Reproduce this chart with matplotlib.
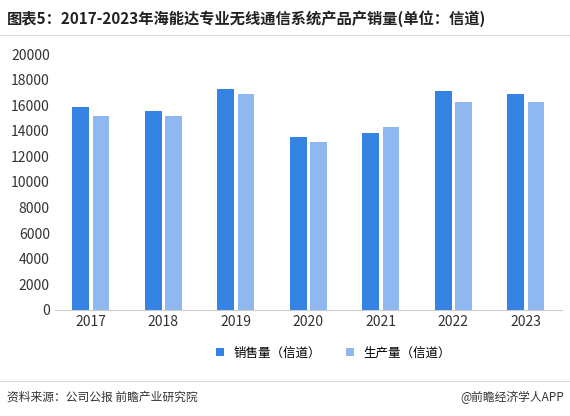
import matplotlib
matplotlib.use("Agg")
import matplotlib.pyplot as plt
import numpy as np

plt.rcParams['font.family'] = ['Noto Sans CJK SC', 'DejaVu Sans']

years = ["2017", "2018", "2019", "2020", "2021", "2022", "2023"]
sales = [15870, 15560, 17270, 13530, 13840, 17120, 16880]
production = [15170, 15170, 16880, 13140, 14310, 16260, 16260]

fig = plt.figure(figsize=(5.70, 4.16), dpi=100)
ax = fig.add_axes([0.096, 0.255, 0.89, 0.615])
x = np.arange(len(years))
w = 0.23
ax.bar(x - 0.14, sales, w, color='#3584e4', label='销售量（信道）')
ax.bar(x + 0.14, production, w, color='#8fb8f0', label='生产量（信道）')
ax.set_xlim(-0.5, 6.5)
ax.set_ylim(0, 20000)
ax.set_yticks(range(0, 20001, 2000))
ax.set_xticks(x)
ax.set_xticklabels(years)
ax.tick_params(length=0, labelsize=10, colors='#333333')
for s in ['top', 'right', 'left']:
    ax.spines[s].set_visible(False)
ax.spines['bottom'].set_color('#cccccc')
ax.legend(loc='upper center', bbox_to_anchor=(0.55, -0.1), ncol=2, frameon=False, fontsize=9,
          handlelength=0.6, handleheight=0.6)

fig.text(0.012, 0.955, '图表5：2017-2023年海能达专业无线通信系统产品产销量(单位：信道)',
         fontsize=11, fontweight='bold', color='#222222', va='center')
fig.add_artist(plt.Line2D([0, 1], [0.915, 0.915], color='#dddddd', lw=0.8))
fig.add_artist(plt.Line2D([0, 1], [0.085, 0.085], color='#dddddd', lw=0.8))
fig.text(0.012, 0.045, '资料来源：公司公报 前瞻产业研究院', fontsize=8.5, color='#333333', va='center')
fig.text(0.99, 0.045, '@前瞻经济学人APP', fontsize=8.5, color='#333333', va='center', ha='right')
fig.savefig('out.png', dpi=100)
